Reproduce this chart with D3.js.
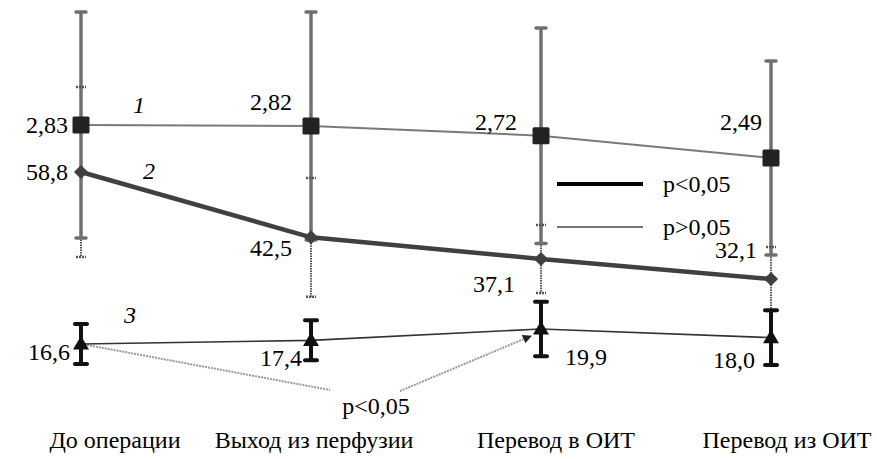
<!DOCTYPE html>
<html>
<head>
<meta charset="utf-8">
<style>
  #fig text { font-family: 'Liberation Serif', 'Times New Roman', Tinos, serif; font-size: 24px; fill: #000; }
</style>
<script src="https://cdn.jsdelivr.net/npm/d3@7"></script>
</head>
<body style="margin:0">
<svg id="fig" width="877" height="459"></svg>
<script>
// categories (time points)
const categories = ["До операции", "Выход из перфузии", "Перевод в ОИТ", "Перевод из ОИТ"];

// series 1 (squares), 2 (diamonds), 3 (triangles): mean and error
const s1Values = [2.83, 2.82, 2.72, 2.49];
const s1Errors = [1.165, 1.175, 1.11, 1.0];
const s1Labels = ["2,83", "2,82", "2,72", "2,49"];

const s2Values = [58.8, 42.5, 37.1, 32.1];
const s2Errors = [21.2, 14.8, 8.5, 8.0];
const s2Labels = ["58,8", "42,5", "37,1", "32,1"];

const s3Values = [16.6, 17.4, 19.9, 18.0];
const s3Errors = [4.4, 4.4, 6.0, 6.0];
const s3Labels = ["16,6", "17,4", "19,9", "18,0"];

const seriesNumbers = ["1", "2", "3"];
const legendLabels = ["p<0,05", "p>0,05"];
const annotationText = "p<0,05";

//
const svg = d3.select("#fig");

const x = d3.scalePoint().domain(categories).range([81, 771]);

// each series has its own vertical scale
const y1 = d3.scaleLinear().domain([2.49, 2.83]).range([158, 125]);
const y2 = d3.scaleLinear().domain([32.1, 58.8]).range([279, 172]);
const y3 = d3.scaleLinear().domain([16.6, 19.9]).range([344, 329]);

const toPts = (vals, errs, y) => vals.map((v, i) => ({
  cx: x(categories[i]), cy: y(v), top: y(v + errs[i]), bot: y(v - errs[i]), i
}));
const p1 = toPts(s1Values, s1Errors, y1);
const p2 = toPts(s2Values, s2Errors, y2);
const p3 = toPts(s3Values, s3Errors, y3);

// annotation (dotted lines with arrow) drawn first
const defs = svg.append("defs");
defs.append("marker")
  .attr("id", "arr").attr("viewBox", "0 0 10 10")
  .attr("refX", 9).attr("refY", 5)
  .attr("markerWidth", 9).attr("markerHeight", 9)
  .attr("markerUnits", "userSpaceOnUse")
  .attr("orient", "auto")
  .append("path").attr("d", "M0,0 L10,5 L0,10 Z").attr("fill", "#222");

svg.append("line")
  .attr("x1", p3[0].cx + 6).attr("y1", p3[0].cy + 1)
  .attr("x2", 330).attr("y2", 390)
  .attr("stroke", "#999").attr("stroke-width", 2).attr("stroke-dasharray", "2,1");
svg.append("line")
  .attr("x1", 400).attr("y1", 391)
  .attr("x2", p3[2].cx - 10).attr("y2", p3[2].cy + 7)
  .attr("stroke", "#999").attr("stroke-width", 2).attr("stroke-dasharray", "2,1")
  .attr("marker-end", "url(#arr)");
svg.append("text")
  .attr("x", 376).attr("y", 414).attr("text-anchor", "middle")
  .text(annotationText);

// series 2 error bars (dotted)
svg.append("g").selectAll("line").data(p2).join("line")
  .attr("x1", d => d.cx).attr("x2", d => d.cx)
  .attr("y1", d => d.top).attr("y2", d => d.bot)
  .attr("stroke", "#555").attr("stroke-width", 2).attr("stroke-dasharray", "1.5,1");

// series 1 error bars (solid gray)
const e1 = svg.append("g");
e1.selectAll("line.bar").data(p1).join("line").attr("class", "bar")
  .attr("x1", d => d.cx).attr("x2", d => d.cx)
  .attr("y1", d => d.top).attr("y2", d => d.bot)
  .attr("stroke", "#707070").attr("stroke-width", 3.5);
e1.selectAll("line.cap").data(p1.flatMap(d => [d.top, d.bot].map(v => ({cx: d.cx, v}))))
  .join("line").attr("class", "cap")
  .attr("x1", d => d.cx - 5).attr("x2", d => d.cx + 5)
  .attr("y1", d => d.v).attr("y2", d => d.v)
  .attr("stroke", "#707070").attr("stroke-width", 3.5).attr("stroke-linecap", "round");

// series 2 caps
svg.append("g").selectAll("line")
  .data(p2.flatMap(d => [d.top, d.bot].map(v => ({cx: d.cx, v}))))
  .join("line")
  .attr("x1", d => d.cx - 5).attr("x2", d => d.cx + 5)
  .attr("y1", d => d.v).attr("y2", d => d.v)
  .attr("stroke", "#555").attr("stroke-width", 2.5).attr("stroke-dasharray", "2,1");

// series 3 error bars (black)
const e3 = svg.append("g");
e3.selectAll("line.bar").data(p3).join("line").attr("class", "bar")
  .attr("x1", d => d.cx).attr("x2", d => d.cx)
  .attr("y1", d => d.top).attr("y2", d => d.bot)
  .attr("stroke", "#111").attr("stroke-width", 4);
e3.selectAll("line.cap").data(p3.flatMap(d => [d.top, d.bot].map(v => ({cx: d.cx, v}))))
  .join("line").attr("class", "cap")
  .attr("x1", d => d.cx - 6).attr("x2", d => d.cx + 6)
  .attr("y1", d => d.v).attr("y2", d => d.v)
  .attr("stroke", "#111").attr("stroke-width", 4).attr("stroke-linecap", "round");

// lines
const line = d3.line().x(d => d.cx).y(d => d.cy);
svg.append("path").attr("d", line(p1)).attr("fill", "none")
  .attr("stroke", "#7a7a7a").attr("stroke-width", 2);
svg.append("path").attr("d", line(p2)).attr("fill", "none")
  .attr("stroke", "#404040").attr("stroke-width", 4.5);
svg.append("path").attr("d", line(p3)).attr("fill", "none")
  .attr("stroke", "#333").attr("stroke-width", 1.6);

// markers
svg.append("g").selectAll("rect").data(p1).join("rect")
  .attr("x", d => d.cx - 8.5).attr("y", d => d.cy - 8.5)
  .attr("width", 17).attr("height", 17).attr("rx", 1.5)
  .attr("fill", "#222");
svg.append("g").selectAll("rect").data(p2).join("rect")
  .attr("x", -5).attr("y", -5).attr("width", 10).attr("height", 10)
  .attr("transform", d => `translate(${d.cx},${d.cy}) rotate(45)`)
  .attr("fill", "#404040");
svg.append("g").selectAll("path").data(p3).join("path")
  .attr("d", d3.symbol().type(d3.symbolTriangle).size(110))
  .attr("transform", d => `translate(${d.cx},${d.cy + 1})`)
  .attr("fill", "#111");

// value labels (offsets from points)
const off1 = [[-13, 8, "end"], [-19, -16, "end"], [-24, -6, "end"], [-9, -28, "end"]];
const off2 = [[-13, 8, "end"], [-19, 19, "end"], [-26, 33, "end"], [-14, -21, "end"]];
const off3 = [[-11, 16, "end"], [-9, 26, "end"], [24, 36, "start"], [-16, 30, "end"]];
function valueLabels(pts, labels, off) {
  svg.append("g").selectAll("text").data(pts).join("text")
    .attr("x", d => d.cx + off[d.i][0])
    .attr("y", d => d.cy + off[d.i][1])
    .attr("text-anchor", d => off[d.i][2])
    .text(d => labels[d.i]);
}
valueLabels(p1, s1Labels, off1);
valueLabels(p2, s2Labels, off2);
valueLabels(p3, s3Labels, off3);

// series numbers (italic)
const numPos = [[p1[0].cx + 52, p1[0].cy - 12], [p2[0].cx + 62, p2[0].cy + 7], [p3[0].cx + 43, p3[0].cy - 21]];
svg.append("g").selectAll("text").data(seriesNumbers).join("text")
  .attr("x", (d, i) => numPos[i][0]).attr("y", (d, i) => numPos[i][1])
  .style("font-style", "italic")
  .text(d => d);

// legend
const legend = svg.append("g").attr("transform", "translate(557,184)");
legend.append("line").attr("x1", 0).attr("x2", 86).attr("y1", 0).attr("y2", 0)
  .attr("stroke", "#000").attr("stroke-width", 4);
legend.append("line").attr("x1", 0).attr("x2", 86).attr("y1", 43).attr("y2", 43)
  .attr("stroke", "#777").attr("stroke-width", 1.8);
legend.selectAll("text").data(legendLabels).join("text")
  .attr("x", 106).attr("y", (d, i) => 8 + i * 43)
  .text(d => d);

// category labels
const catShift = [34, 3, 15, 16];
svg.append("g").selectAll("text").data(categories).join("text")
  .attr("x", (d, i) => x(d) + catShift[i]).attr("y", 448)
  .attr("text-anchor", "middle")
  .text(d => d);
</script>
</body>
</html>
